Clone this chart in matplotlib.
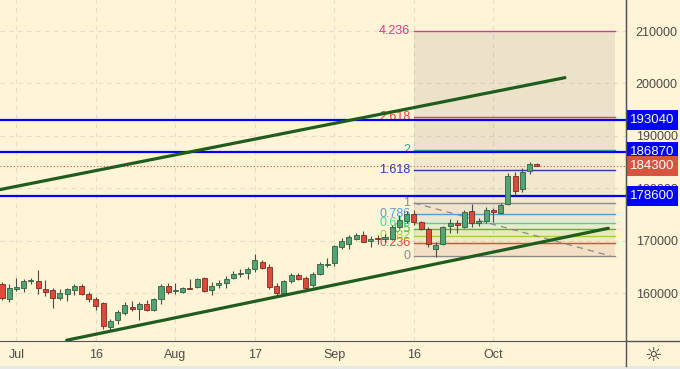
import matplotlib
matplotlib.use("Agg")
import matplotlib.pyplot as plt
import matplotlib.transforms as mtransforms
from matplotlib.lines import Line2D
from matplotlib.patches import Rectangle

plt.rcParams['font.family'] = ['Liberation Sans Narrow', 'Liberation Sans', 'DejaVu Sans']

# daily candles
opens = [161810, 158890, 160860, 161100, 162380, 162440, 160800, 160610, 159140, 159900,
         160670, 161490, 159960, 158890, 158190, 153710, 154950, 156340, 157480, 156990,
         157940, 156860, 158890, 161490, 160420, 160290, 161100, 161240, 163010, 160610,
         161620, 161940, 162890, 163650, 163840, 164570, 166000, 165050, 161430, 160150,
         162380, 163430, 163010, 161620, 163770, 165430, 165750, 168920, 169370, 170380,
         171140, 170000, 170620, 170380, 170380, 172720, 173810, 175140, 173560, 172230,
         168480, 169430, 172860, 173370, 172720, 175620, 173370, 173870, 175900, 175390,
         177000, 182380, 179850, 183390, 184670]
highs = [162190, 161750, 163010, 162760, 163010, 164420, 162510, 160990, 160800, 160990,
         161870, 161750, 160340, 159390, 158320, 155080, 156800, 158380, 158630, 158380,
         158760, 159140, 161750, 161940, 161940, 161290, 162820, 162950, 163200, 162240,
         162570, 163390, 164280, 164610, 165100, 167460, 166440, 165620, 161940, 162570,
         163960, 163960, 163330, 164100, 166060, 166800, 169240, 170520, 171140, 171460,
         171900, 171010, 171140, 171270, 173050, 174950, 175710, 175900, 173870, 172610,
         169860, 172860, 174130, 174000, 175900, 177000, 174320, 176440, 176230, 177180,
         182890, 183200, 183850, 185110, 184900]
lows = [158760, 158440, 160480, 160340, 161750, 159960, 159580, 157290, 158700, 158630,
        159660, 159710, 158440, 156860, 153240, 152860, 154190, 155940, 156610, 154950,
        156670, 156720, 157940, 159900, 159900, 160100, 160800, 160990, 160290, 159710,
        160990, 160990, 162800, 163200, 162760, 164060, 164570, 160860, 159390, 160100,
        162060, 162570, 160670, 161330, 163430, 164990, 165240, 168480, 168480, 170190,
        169750, 168810, 169480, 169860, 170190, 172470, 173430, 173050, 172100, 168810,
        167000, 169240, 171460, 171460, 172420, 172720, 172860, 173390, 173670, 175140,
        176860, 178760, 179390, 182670, 184200]
closes = [159140, 160990, 161180, 162320, 162630, 160990, 160340, 159200, 160100, 160800,
          161430, 159960, 158950, 157670, 153770, 154700, 156480, 157750, 157050, 157940,
          156800, 158950, 161490, 160340, 160720, 161100, 160860, 162820, 160480, 161490,
          161940, 162700, 163650, 163960, 164720, 166320, 164800, 161240, 160150, 162440,
          163430, 162760, 160990, 163770, 165620, 165680, 169050, 170060, 170700, 171140,
          169860, 170380, 170380, 170670, 172600, 174000, 175140, 173560, 172280, 169430,
          169240, 172720, 173370, 173050, 175580, 173520, 173870, 175940, 175470, 176860,
          182380, 179580, 183080, 184670, 184300]

date_ticks = [2, 13, 24, 35, 46, 57, 68]
date_labels = ["Jul", "16", "Aug", "17", "Sep", "16", "Oct"]
price_ticks = [160000, 170000, 180000, 190000, 200000, 210000]

# horizontal levels and last price
blue_levels = [193040, 186870, 178600]
last_price = 184300

# trend lines (bar index, price)
lower_line_x = [8.95, 83.9]
lower_line_y = [151100, 172420]
upper_line_x = [-0.28, 77.9]
upper_line_y = [179790, 201110]

# fib extension
fib_x = [57, 84.8]
fib_p0, fib_p1 = 167150, 177250
fib_levels = [0, 0.236, 0.382, 0.5, 0.618, 0.786, 1, 1.618, 2, 2.618, 4.236]
fib_names = ["0", "0.236", "0.382", "0.5", "0.618", "0.786", "1", "1.618", "2", "2.618", "4.236"]
fib_colors = ["#8a8a8a", "#e0483a", "#a6cf3a", "#3cc43c", "#3ddc97", "#4d9fd6",
              "#8a8a8a", "#2b3bb8", "#22b09a", "#e8413c", "#e0358a"]

bg = "#fff4d6"
up_col, dn_col = "#53a474", "#de4a3a"

fig = plt.figure(figsize=(6.8, 3.69), dpi=100, facecolor=bg)
ax = fig.add_axes([0, 1 - 341 / 369, 626 / 680, 341 / 369], facecolor=bg)
ax.set_xlim(-0.28, 86.35)
ax.set_ylim(150950, 215905)

# grid
for t in price_ticks:
    ax.axhline(t, color="#e2dccb", lw=0.8, ls=(0, (4, 4)), zorder=0)
for t in date_ticks:
    ax.axvline(t, color="#e2dccb", lw=0.8, ls=(0, (4, 4)), zorder=0)

# fib bands
vals = [fib_p0 + l * (fib_p1 - fib_p0) for l in fib_levels]
for i in range(6):
    ax.fill_between(fib_x, vals[i], vals[i + 1], color=fib_colors[i + 1], alpha=0.08, lw=0, zorder=1)
ax.fill_between(fib_x, vals[0], vals[6], color="#7f7f7f", alpha=0.06, lw=0, zorder=1)
ax.fill_between(fib_x, vals[6], vals[8], color="#7f7f7f", alpha=0.10, lw=0, zorder=1)
ax.fill_between(fib_x, vals[8], vals[-1], color="#7f7f7f", alpha=0.15, lw=0, zorder=1)
for v, n, c in zip(vals, fib_names, fib_colors):
    ax.plot(fib_x, [v, v], color=c, lw=1.0, zorder=2)
    ax.text(fib_x[0] - 0.5, v, n, color=c, fontsize=9, ha="right", va="center", zorder=3,
            family=["Liberation Sans", "DejaVu Sans"])
ax.plot([fib_x[0], 84.2], [fib_p1, fib_p0], color="#8a8a8a", lw=0.9, ls=(0, (5, 4)), zorder=2)

# blue levels and last price line
for v in blue_levels:
    ax.axhline(v, color="#0000ff", lw=1.6, zorder=4)
ax.axhline(last_price, color="#e0483a", lw=0.8, ls=(0, (1, 2)), zorder=2)

# candles
for i in range(len(opens)):
    o, h, l, c = opens[i], highs[i], lows[i], closes[i]
    col = up_col if c >= o else dn_col
    edge = "#2f5e3e" if c >= o else "#7a2a20"
    ax.vlines(i, l, h, color="#4a4a4a", lw=0.8, zorder=5)
    ax.bar(i, max(abs(c - o), 120), bottom=min(o, c), width=0.7, color=col,
           edgecolor=edge, lw=0.6, zorder=6)

# trend lines
ax.plot(lower_line_x, lower_line_y, color="#1f5d1f", lw=2.3, solid_capstyle="round", zorder=7)
ax.plot(upper_line_x, upper_line_y, color="#1f5d1f", lw=2.3, solid_capstyle="round", zorder=7)

# axes look
for s in ["left", "top"]:
    ax.spines[s].set_visible(False)
ax.spines["right"].set_color("#50535e")
ax.spines["bottom"].set_color("#50535e")
ax.yaxis.tick_right()
ax.set_yticks(price_ticks)
ax.set_yticklabels([str(t) for t in price_ticks])
ax.set_xticks(date_ticks)
ax.set_xticklabels(date_labels)
ax.tick_params(axis="both", length=0, labelsize=9, colors="#4a4a4a")
ax.tick_params(axis="y", pad=7)
ax.tick_params(axis="x", pad=6)

fig.add_artist(Line2D([626 / 680, 626 / 680], [3 / 369, 1], color="#50535e", lw=1.0))
fig.add_artist(Line2D([626 / 680, 1], [1 - 341 / 369, 1 - 341 / 369], color="#50535e", lw=1.0))
fig.add_artist(Rectangle((0, 0), 1, 3 / 369, transform=fig.transFigure, fc="#e6e6e6", ec="none"))

# price tags on axis
tr = mtransforms.blended_transform_factory(ax.transAxes, ax.transData)
for v in blue_levels:
    ax.text(1.006, v, str(v), transform=tr, color="white", fontsize=9.5, ha="left", va="center",
            bbox=dict(boxstyle="square,pad=0.3", fc="#0000ff", ec="none"), clip_on=False, zorder=10)
ax.text(1.006, last_price, str(last_price), transform=tr, color="white", fontsize=9.5, ha="left",
        va="center", bbox=dict(boxstyle="square,pad=0.3", fc="#d6553f", ec="none"),
        clip_on=False, zorder=10)

fig.text(653 / 680, 1 - 355 / 369, "\u263c", fontsize=14, ha="center", va="center",
         color="#333333", family="DejaVu Sans")

fig.savefig("out.png", dpi=100, facecolor=bg)
